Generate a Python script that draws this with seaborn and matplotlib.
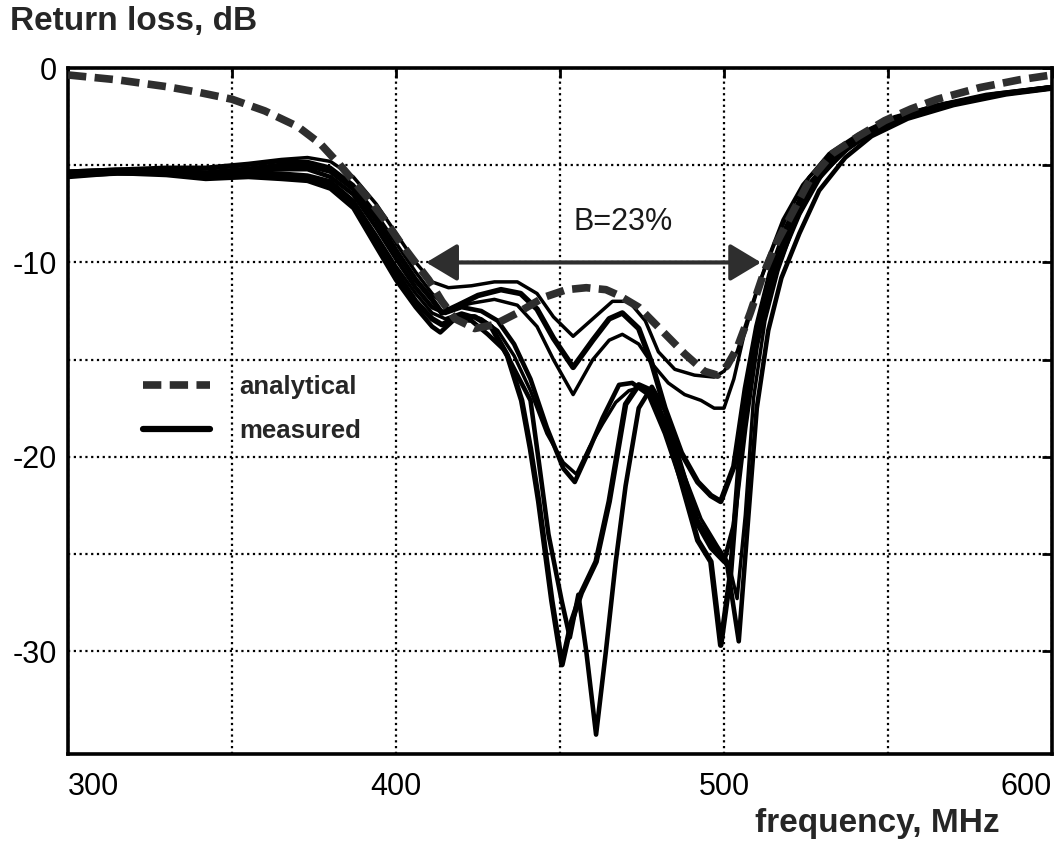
import numpy as np
import matplotlib
matplotlib.use("Agg")
import matplotlib.pyplot as plt
import seaborn as sns
from matplotlib.lines import Line2D

# analytical return loss (dashed)
f_an = [300, 315, 330, 340, 350, 360, 370, 377, 383, 388, 392, 397, 401, 405, 410, 414, 418, 424,
        430, 437, 445, 452, 458, 464, 468, 474, 481, 488, 494, 498, 501, 504, 508, 512, 516, 521,
        526, 533, 541, 549, 557, 565, 578, 590, 600]
rl_an = [-0.35, -0.6, -0.95, -1.25, -1.6, -2.2, -3.0, -3.9, -5.0, -6.0, -6.8, -7.9, -8.9, -9.8,
         -10.9, -12.0, -12.9, -13.4, -13.2, -12.6, -11.8, -11.4, -11.3, -11.4, -11.7, -12.3, -13.5,
         -14.7, -15.6, -15.8, -15.3, -14.4, -12.6, -10.6, -9.0, -7.4, -5.8, -4.4, -3.5, -2.7, -2.1,
         -1.6, -1.0, -0.6, -0.35]

# measured curves, common low-frequency section
f_low = [300, 315, 330, 342, 355, 365, 373, 380, 387, 394, 400, 406, 411]
rl_low_m1 = [-5.3, -5.2, -5.1, -5.1, -4.9, -4.7, -4.6, -4.8, -5.6, -7.0, -8.5, -10.0, -11.0]
rl_low_m2 = [-5.4, -5.3, -5.3, -5.4, -5.2, -5.0, -5.0, -5.3, -6.2, -7.8, -9.4, -10.9, -11.9]
rl_low_m3 = [-5.3, -5.2, -5.2, -5.2, -5.0, -4.8, -4.8, -5.1, -6.0, -7.5, -9.0, -10.5, -11.6]
rl_low_m4 = [-5.4, -5.3, -5.3, -5.5, -5.3, -5.2, -5.2, -5.6, -6.5, -8.2, -9.8, -11.3, -12.3]
rl_low_m5 = [-5.5, -5.4, -5.4, -5.6, -5.5, -5.5, -5.6, -6.0, -7.0, -8.9, -10.5, -12.0, -12.9]
rl_low_m6 = [-5.6, -5.4, -5.5, -5.7, -5.6, -5.7, -5.8, -6.2, -7.2, -9.2, -10.9, -12.3, -13.3]
rl_low_m7 = [-5.5, -5.3, -5.4, -5.5, -5.4, -5.4, -5.5, -5.8, -6.8, -8.6, -10.2, -11.6, -12.6]

# measured curves, band section
f_m1 = [416, 423, 430, 437, 443, 448, 454, 460, 466, 471, 476, 480, 485, 491, 497, 500, 504, 508.5,
        513, 518, 524, 532, 541, 552, 565, 580, 600]
rl_m1 = [-11.3, -11.2, -11.0, -11.0, -11.6, -12.8, -13.8, -12.9, -12.0, -12.0, -13.0, -14.6, -15.5,
         -15.8, -15.9, -15.6, -14.6, -12.2, -10.0, -7.8, -6.0, -4.4, -3.4, -2.5, -1.9, -1.4, -0.95]

f_m2 = [414, 419, 425, 432, 438, 443, 448, 454, 460, 465, 469, 474, 478, 482, 487, 492, 496, 499,
        503, 506.5, 510, 514, 519, 525, 533, 542, 552, 565, 580, 600]
rl_m2 = [-12.6, -12.2, -11.7, -11.4, -11.6, -12.4, -13.9, -15.4, -14.0, -12.9, -12.6, -13.4, -15.2,
         -17.5, -19.8, -21.3, -22.0, -22.3, -20.5, -16.5, -13.3, -10.6, -8.2, -6.2, -4.6, -3.5, -2.6,
         -1.95, -1.4, -1.0]

f_m3 = [416, 423, 430, 437, 443, 448, 454, 460, 465, 469, 474, 478, 483, 488, 493, 497, 500, 503,
        506, 510.5, 515, 520, 526, 534, 543, 553, 566, 582, 600]
rl_m3 = [-12.4, -12.1, -11.9, -12.2, -13.3, -15.0, -16.8, -15.0, -14.0, -13.7, -14.2, -15.2, -16.2,
         -16.8, -17.1, -17.5, -17.5, -16.0, -13.8, -11.2, -9.2, -7.3, -5.6, -4.2, -3.3, -2.5, -1.9,
         -1.35, -0.95]

f_m4 = [415, 420, 426, 431, 436, 441, 446, 451, 454.5, 458, 463, 468, 472, 477, 482, 487, 492, 496,
        500, 503, 506.5, 510, 513.5, 518, 523, 530, 538, 547, 558, 572, 588, 600]
rl_m4 = [-12.6, -12.3, -12.5, -13.0, -14.2, -16.0, -18.5, -20.6, -21.3, -20.0, -18.0, -16.3, -16.2,
         -16.8, -18.8, -21.3, -23.5, -24.7, -25.4, -23.5, -18.5, -14.3, -11.6, -9.5, -7.5, -5.4,
         -4.1, -3.1, -2.3, -1.7, -1.25, -1.0]

f_m5 = [414, 419, 424, 429, 434, 438.3, 441, 443.5, 447.5, 450.6, 453.5, 456.5, 461, 465, 470, 474,
        478, 482, 487, 492, 496, 499, 502, 505, 508.5, 512, 516, 521, 527, 535, 543, 554, 567, 583,
        600]
rl_m5 = [-13.2, -12.8, -12.8, -13.3, -14.8, -17.1, -19.6, -22.3, -27.4, -30.7, -28.5, -27.0, -25.4,
         -22.3, -17.3, -16.3, -16.6, -18.3, -21.3, -24.3, -25.4, -29.7, -26.0, -19.5, -15.0, -12.6,
         -10.3, -8.0, -5.9, -4.4, -3.4, -2.5, -1.9, -1.35, -1.0]

f_m6 = [413.5, 418, 423, 428, 433, 437, 441, 443.5, 446.5, 450.5, 453, 455.6, 458, 461, 464, 467,
        470, 474, 478, 482, 487, 492, 497, 501, 504.5, 507, 510, 513.5, 517.5, 523, 529, 537, 545, 556,
        570, 586, 600]
rl_m6 = [-13.6, -12.9, -13.0, -13.7, -14.5, -15.8, -17.1, -20.2, -24.0, -27.4, -29.3, -27.1, -30.0,
         -34.3, -30.0, -25.4, -21.5, -17.5, -16.4, -17.6, -20.5, -23.3, -24.6, -25.6, -29.5, -24.0,
         -17.5, -13.5, -10.8, -8.5, -6.3, -4.6, -3.5, -2.6, -1.9, -1.35, -1.05]

f_m7 = [415, 420, 426, 431, 436, 441, 446, 451, 455, 459, 463, 467, 471, 475, 479, 483, 488, 493,
        498, 501.5, 504, 506.5, 509, 512.5, 516.5, 521.5, 528, 536, 545, 556, 570, 586, 600]
rl_m7 = [-12.9, -12.6, -12.9, -13.5, -14.8, -16.6, -18.8, -20.3, -20.9, -19.5, -18.3, -17.2, -16.6,
         -16.4, -17.0, -18.6, -21.0, -23.2, -24.6, -25.5, -27.3, -23.0, -17.0, -13.0, -10.4, -8.0,
         -5.9, -4.4, -3.3, -2.5, -1.85, -1.3, -1.0]

measured = [
    (rl_low_m1, f_m1, rl_m1, 2.5),
    (rl_low_m2, f_m2, rl_m2, 4.0),
    (rl_low_m3, f_m3, rl_m3, 2.5),
    (rl_low_m4, f_m4, rl_m4, 3.3),
    (rl_low_m5, f_m5, rl_m5, 4.0),
    (rl_low_m6, f_m6, rl_m6, 3.3),
    (rl_low_m7, f_m7, rl_m7, 2.5),
]

# bandwidth marker
band_lo, band_hi, band_level = 409.2, 511.3, -10
band_text = "B=23%"

x_ticks = [300, 350, 400, 450, 500, 550, 600]
x_labels = ["300", "", "400", "", "500", "", "600"]
y_ticks = [-30, -25, -20, -15, -10, -5, 0]
y_labels = ["-30", "", "-20", "", "-10", "", "0"]

sns.set_theme(style="white")
plt.rcParams['font.family'] = ['Liberation Sans', 'DejaVu Sans']

fig = plt.figure(figsize=(10.56, 8.52), dpi=100)
ax = fig.add_axes([0.0644, 0.115, 0.9318, 0.805])

for rl_low, f_mid, rl_mid, lw in measured:
    sns.lineplot(x=f_low + f_mid, y=rl_low + rl_mid, ax=ax, color='black', linewidth=lw,
                 estimator=None, sort=False, zorder=3)

sns.lineplot(x=f_an, y=rl_an, ax=ax, color='#2e2e2e', linewidth=5.5,
             estimator=None, sort=False, zorder=4)
ax.lines[-1].set_dashes([2.4, 1.1])

ax.annotate('', xy=(band_lo, band_level), xytext=(band_hi, band_level),
            arrowprops=dict(arrowstyle='<|-|>,head_length=0.6,head_width=0.36',
                            color='#2e2e2e', lw=3, mutation_scale=32,
                            shrinkA=0, shrinkB=0), zorder=5)
ax.text((band_lo + band_hi) / 2 + 9, band_level + 2.1, band_text, ha='center', va='center',
        fontsize=22, color='#1a1a1a')

ax.set_xlim(300, 600)
ax.set_ylim(-35.3, 0)
ax.set_xticks(x_ticks)
ax.set_xticklabels(x_labels)
ax.set_yticks(y_ticks)
ax.set_yticklabels(y_labels)
ax.set_xlabel('')
ax.set_ylabel('')

ax.grid(True, color='black', linestyle=(0, (1, 1.6)), linewidth=1.6)
ax.tick_params(direction='in', length=7, width=2, top=True, right=True, colors='black',
               labelsize=22)
ax.tick_params(axis='x', pad=13)
ax.tick_params(axis='y', pad=8)
xl = ax.get_xticklabels()
xl[0].set_ha('left')
xl[-1].set_ha('right')
for s in ax.spines.values():
    s.set_color('black')
    s.set_linewidth(2.6)

h_an = Line2D([], [], color='#2e2e2e', linewidth=5.5, dashes=[2.4, 1.1])
h_ms = Line2D([], [], color='black', linewidth=4.5)
ax.legend([h_an, h_ms], ['analytical', 'measured'], loc='upper left',
          bbox_to_anchor=(0.076, 0.553), frameon=False,
          prop={'weight': 'bold', 'size': 18.5}, handlelength=2.6, handletextpad=1.15,
          labelspacing=0.8, borderpad=0, borderaxespad=0)

fig.text(0.0095, 1 - 30 / 852, 'Return loss, dB', fontsize=24, fontweight='bold', va='baseline')
fig.text(1000 / 1056, 1 - 832 / 852, 'frequency, MHz', fontsize=24, fontweight='bold',
         ha='right', va='baseline')

fig.savefig('out.png', dpi=100)
